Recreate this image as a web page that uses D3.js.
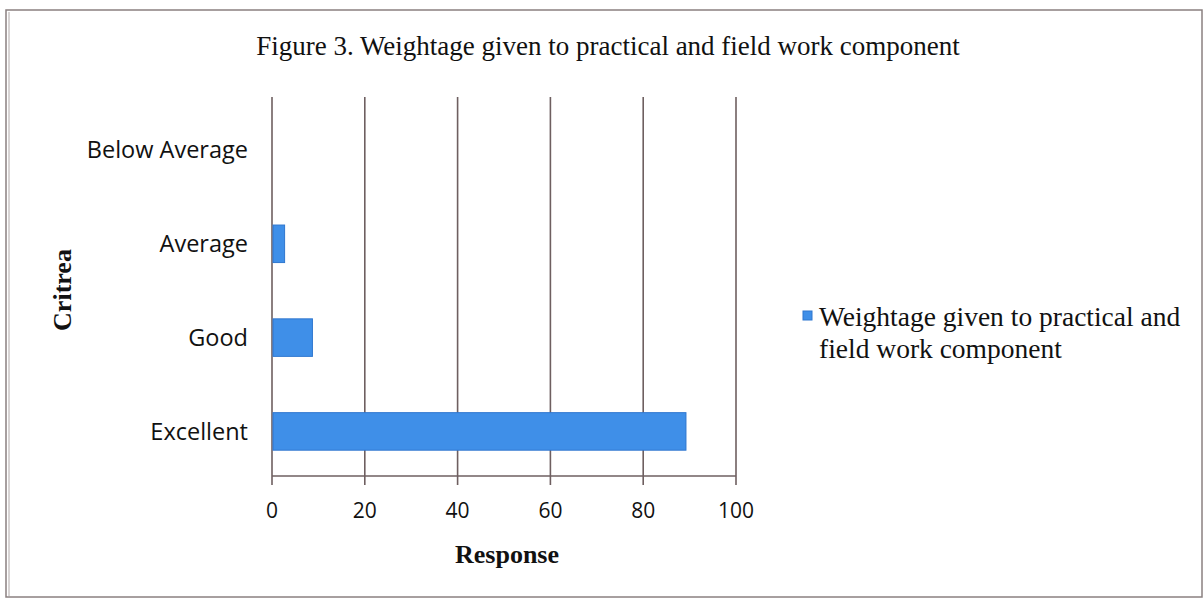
<!DOCTYPE html>
<html>
<head>
<meta charset="utf-8">
<script src="https://cdn.jsdelivr.net/npm/d3@7"></script>
<style>
  body { margin: 0; background: #fff; }
  svg { display: block; }
</style>
</head>
<body>
<div id="chart"></div>
<script>
const categories = ['Below Average', 'Average', 'Good', 'Excellent']
const responses = [0, 2.5, 8.5, 89]
const xTicks = [0, 20, 40, 60, 80, 100]
const seriesName = ['Weightage given to practical and', 'field work component']

const W = 1204
const H = 603
const margin = { top: 97, right: 468, bottom: 127, left: 272 }
const width = W - margin.left - margin.right
const height = H - margin.top - margin.bottom

const svg = d3.select('#chart')
  .append('svg')
  .attr('width', W)
  .attr('height', H)

// page frame
svg.append('rect')
  .attr('x', 6).attr('y', 10)
  .attr('width', 1196).attr('height', 587)
  .attr('fill', 'none')
  .attr('stroke', '#8a8080')
  .attr('stroke-width', 1.5)
svg.append('line')
  .attr('x1', 9).attr('x2', 9).attr('y1', 12).attr('y2', 596)
  .attr('stroke', '#b0a8a8').attr('stroke-width', 1)

const g = svg.append('g')
  .attr('transform', 'translate(' + margin.left + ',' + margin.top + ')')

const x = d3.scaleLinear().domain([0, 100]).range([0, width])
const y = d3.scaleBand()
  .domain(categories)
  .range([0, height])
  .paddingInner(0.6)
  .paddingOuter(0.32)
  .align(0.57)

// gridlines
g.selectAll('.grid')
  .data(xTicks)
  .enter()
  .append('line')
  .attr('class', 'grid')
  .attr('x1', d => x(d)).attr('x2', d => x(d))
  .attr('y1', 0).attr('y2', height + 9)
  .attr('stroke', '#6e5f60')
  .attr('stroke-width', 1.6)

// bottom axis line
g.append('line')
  .attr('x1', 0).attr('x2', width)
  .attr('y1', height).attr('y2', height)
  .attr('stroke', '#6e5f60')
  .attr('stroke-width', 1.6)

// bars
g.selectAll('.bar')
  .data(categories)
  .enter()
  .append('rect')
  .attr('class', 'bar')
  .attr('x', x(0) + 1)
  .attr('y', d => y(d))
  .attr('height', y.bandwidth())
  .attr('width', (d, i) => Math.max(0, x(responses[i]) - x(0)))
  .attr('fill', '#3f8fe8')
  .attr('stroke', '#2f77cf')
  .attr('stroke-width', 1)

// category labels
g.selectAll('.cat')
  .data(categories)
  .enter()
  .append('text')
  .attr('class', 'cat')
  .attr('x', -24)
  .attr('y', d => y(d) + y.bandwidth() / 2)
  .attr('dy', '0.35em')
  .attr('text-anchor', 'end')
  .style('font-family', '"Open Sans", sans-serif')
  .style('font-size', '23.5px')
  .attr('fill', '#111')
  .text(d => d)

// tick labels
g.selectAll('.tick-label')
  .data(xTicks)
  .enter()
  .append('text')
  .attr('class', 'tick-label')
  .attr('x', d => x(d))
  .attr('y', height + 42)
  .attr('text-anchor', 'middle')
  .style('font-family', '"Open Sans", sans-serif')
  .style('font-size', '21px')
  .attr('fill', '#111')
  .text(d => d)

// axis titles
svg.append('text')
  .attr('x', 507).attr('y', 563)
  .attr('text-anchor', 'middle')
  .style('font-family', '"Liberation Serif", serif')
  .style('font-weight', 'bold')
  .style('font-size', '26px')
  .attr('fill', '#111')
  .text('Response')

svg.append('text')
  .attr('transform', 'translate(71,290) rotate(-90)')
  .attr('text-anchor', 'middle')
  .style('font-family', '"Liberation Serif", serif')
  .style('font-weight', 'bold')
  .style('font-size', '26px')
  .attr('fill', '#111')
  .text('Critrea')

// title
svg.append('text')
  .attr('x', 608).attr('y', 55)
  .attr('text-anchor', 'middle')
  .style('font-family', '"Liberation Serif", serif')
  .style('font-size', '27px')
  .attr('fill', '#111')
  .text('Figure 3. Weightage given to practical and field  work component')

// legend
const legend = svg.append('g').attr('transform', 'translate(803,311)')
legend.append('rect')
  .attr('x', 0).attr('y', 0)
  .attr('width', 9).attr('height', 9)
  .attr('fill', '#3f8fe8')
  .attr('stroke', '#2f77cf')
legend.selectAll('text')
  .data(seriesName)
  .enter()
  .append('text')
  .attr('x', 16)
  .attr('y', (d, i) => 15 + i * 32)
  .style('font-family', '"Liberation Serif", serif')
  .style('font-size', '27.5px')
  .attr('fill', '#111')
  .text(d => d)
</script>
</body>
</html>
